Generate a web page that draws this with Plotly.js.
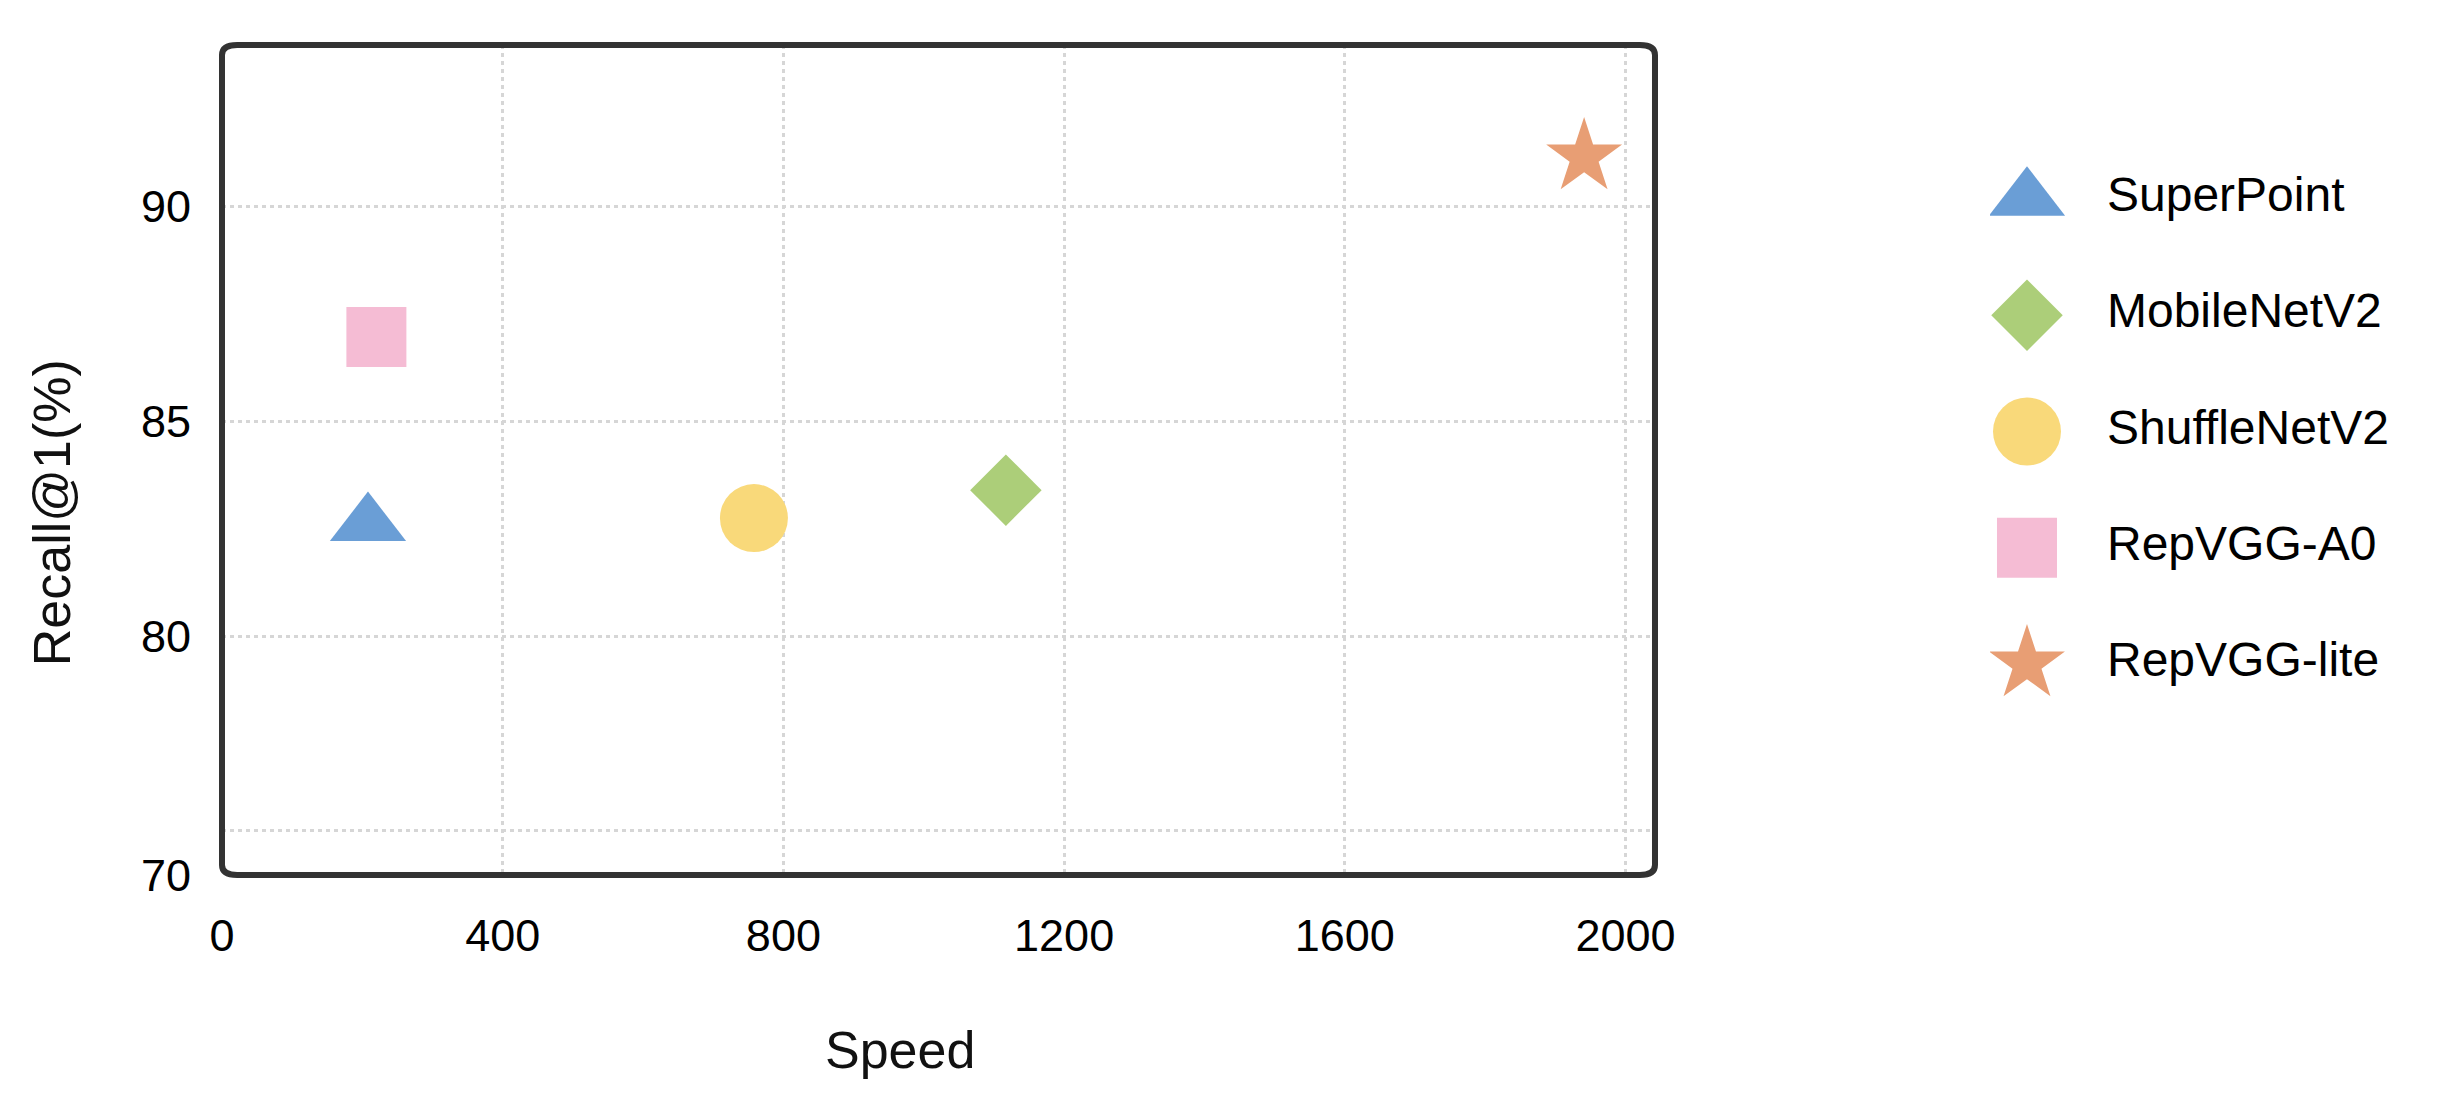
<!DOCTYPE html>
<html>
<head>
<meta charset="utf-8">
<script src="https://cdn.plot.ly/plotly-3.0.1.min.js"></script>
<style>
  html, body { margin: 0; padding: 0; background: #fff; }
  #viz { width: 2454px; height: 1110px; }
</style>
</head>
<body>
<div id="viz"></div>
<script>
// values
var models = ['SuperPoint', 'MobileNetV2', 'ShuffleNetV2', 'RepVGG-A0', 'RepVGG-lite'];
var speed  = [208, 1117, 758, 220, 1941];
var recall = [82.6, 83.4, 82.75, 86.96, 91.14];

var xTickVals = [0, 400, 800, 1200, 1600, 2000];
var xTickText = ['0', '400', '800', '1200', '1600', '2000'];
// the original axis is "broken": bottom edge is labelled 70
var yTickVals = [74.46, 75.5, 80, 85, 90];
var yTickText = ['70', '', '80', '85', '90'];

// styles
var symbols = ['triangle-up', 'diamond', 'circle', 'square', 'star'];
var colors  = ['rgb(106,158,214)', 'rgb(172,206,121)', 'rgb(249,217,122)',
               'rgb(245,188,212)', 'rgb(232,158,116)'];
var sizes   = [66, 55, 68, 60, 57];

var FONT = 'Liberation Sans, Arial, Helvetica, sans-serif';
var mainRight = 0.65794;

var data = [];
models.forEach(function(m, i) {
  data.push({
    x: [speed[i]], y: [recall[i]],
    mode: 'markers', type: 'scatter', name: m,
    showlegend: false,
    marker: { symbol: symbols[i], color: colors[i], size: sizes[i], line: { width: 0 } },
    xaxis: 'x', yaxis: 'y'
  });
  // hand-made legend on its own hidden axes
  data.push({
    x: [0], y: [m],
    mode: 'markers', type: 'scatter', name: m,
    showlegend: false, hoverinfo: 'skip',
    marker: { symbol: symbols[i], color: colors[i], size: sizes[i], line: { width: 0 } },
    xaxis: 'x2', yaxis: 'y2'
  });
});
data.push({
  x: models.map(function() { return 1; }), y: models, text: models,
  mode: 'text', type: 'scatter', textposition: 'middle right',
  textfont: { family: FONT, size: 48, color: '#000' },
  showlegend: false, hoverinfo: 'skip',
  xaxis: 'x2', yaxis: 'y2'
});

// rounded frame round the plot area
var rx = 10 / 1433, ry = 10 / 830, x0 = 0, x1 = mainRight, y0 = 0, y1 = 1;
var framePath = 'M' + (x0 + rx) + ',' + y1 + ' L' + (x1 - rx) + ',' + y1 +
  ' Q' + x1 + ',' + y1 + ' ' + x1 + ',' + (y1 - ry) +
  ' L' + x1 + ',' + (y0 + ry) +
  ' Q' + x1 + ',' + y0 + ' ' + (x1 - rx) + ',' + y0 +
  ' L' + (x0 + rx) + ',' + y0 +
  ' Q' + x0 + ',' + y0 + ' ' + x0 + ',' + (y0 + ry) +
  ' L' + x0 + ',' + (y1 - ry) +
  ' Q' + x0 + ',' + y1 + ' ' + (x0 + rx) + ',' + y1 + ' Z';

var layout = {
  width: 2454, height: 1110,
  margin: { l: 222, r: 54, t: 45, b: 235, pad: 0 },
  paper_bgcolor: '#fff', plot_bgcolor: '#fff',
  font: { family: FONT, size: 45, color: '#000' },
  showlegend: false,
  xaxis: {
    domain: [0, mainRight],
    range: [0, 2042],
    tickmode: 'array', tickvals: xTickVals, ticktext: xTickText,
    ticks: '', ticklabelstandoff: 30,
    showgrid: true, gridcolor: '#d6d6d6', gridwidth: 3, griddash: '4px,4px',
    zeroline: false, showline: false,
    tickfont: { family: FONT, size: 45, color: '#000' }
  },
  yaxis: {
    range: [74.46, 93.74],
    tickmode: 'array', tickvals: yTickVals, ticktext: yTickText,
    ticks: '', ticklabelstandoff: 30,
    showgrid: true, gridcolor: '#d6d6d6', gridwidth: 3, griddash: '4px,4px',
    zeroline: false, showline: false,
    tickfont: { family: FONT, size: 45, color: '#000' }
  },
  xaxis2: {
    domain: [0.81175, 1], range: [-0.4625, 4.6625],
    anchor: 'y2', visible: false, fixedrange: true
  },
  yaxis2: {
    domain: [0.1843, 0.8843], type: 'category', categoryarray: models,
    range: [4.5, -0.5], anchor: 'x2', visible: false, fixedrange: true
  },
  shapes: [{
    type: 'path', xref: 'paper', yref: 'paper', path: framePath,
    line: { color: '#333', width: 6 }, fillcolor: 'rgba(0,0,0,0)', layer: 'above'
  }],
  annotations: [
    { text: 'Speed', xref: 'paper', yref: 'paper', x: 0.3113, y: -0.2108,
      xanchor: 'center', yanchor: 'middle', showarrow: false,
      font: { family: FONT, size: 52, color: '#111' } },
    { text: 'Recall@1(%)', xref: 'paper', yref: 'paper', x: -0.078, y: 0.436,
      xanchor: 'center', yanchor: 'middle', showarrow: false, textangle: -90,
      font: { family: FONT, size: 52, color: '#111' } }
  ]
};

Plotly.newPlot('viz', data, layout, { displayModeBar: false, staticPlot: true });
</script>
</body>
</html>
